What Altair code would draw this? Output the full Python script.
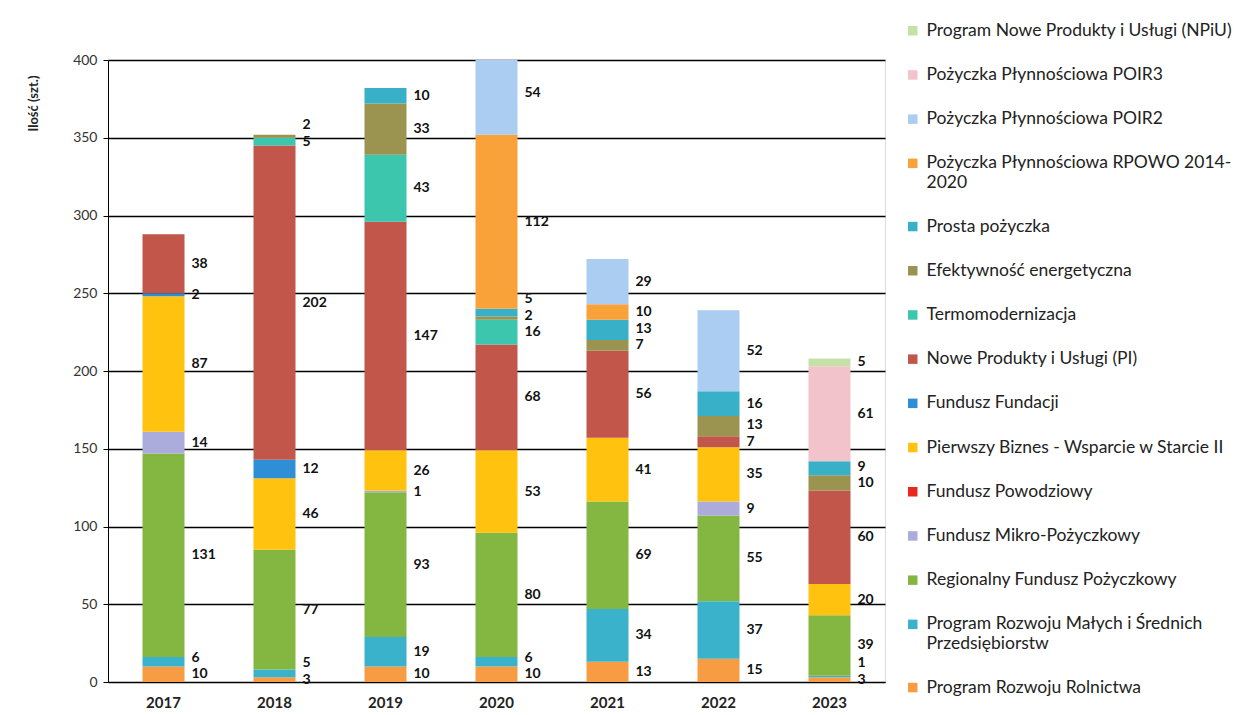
import altair as alt
import pandas as pd

years = ["2017", "2018", "2019", "2020", "2021", "2022", "2023"]

# series in stacking order (bottom first)
series = [
    "Program Rozwoju Rolnictwa",
    "Program Rozwoju Małych i Średnich Przedsiębiorstw",
    "Regionalny Fundusz Pożyczkowy",
    "Fundusz Mikro-Pożyczkowy",
    "Fundusz Powodziowy",
    "Pierwszy Biznes - Wsparcie w Starcie II",
    "Fundusz Fundacji",
    "Nowe Produkty i Usługi (PI)",
    "Termomodernizacja",
    "Efektywność energetyczna",
    "Prosta pożyczka",
    "Pożyczka Płynnościowa RPOWO 2014-2020",
    "Pożyczka Płynnościowa POIR2",
    "Pożyczka Płynnościowa POIR3",
    "Program Nowe Produkty i Usługi (NPiU)",
]
colors = [
    "#F79C42", "#3BB2CB", "#84B642", "#ABABDC", "#E8281E", "#FFC20F",
    "#2F8FD6", "#C2564B", "#3DC6AE", "#9A9450", "#38B0C8", "#F9A23A",
    "#AACDF1", "#F2C3CB", "#C6E1A8",
]

rolnictwa = [10, 3, 10, 10, 13, 15, 3]
msp = [6, 5, 19, 6, 34, 37, 1]
rfp = [131, 77, 93, 80, 69, 55, 39]
mikro = [14, 0, 1, 0, 0, 9, 0]
powodziowy = [0, 0, 0, 0, 0, 0, 0]
pierwszy_biznes = [87, 46, 26, 53, 41, 35, 20]
fundacji = [2, 12, 0, 0, 0, 0, 0]
nowe_pi = [38, 202, 147, 68, 56, 7, 60]
termo = [0, 5, 43, 16, 0, 0, 0]
efekt = [0, 2, 33, 2, 7, 13, 10]
prosta = [0, 0, 10, 5, 13, 16, 9]
rpowo = [0, 0, 0, 112, 10, 0, 0]
poir2 = [0, 0, 0, 54, 29, 52, 0]
poir3 = [0, 0, 0, 0, 0, 0, 61]
npiu = [0, 0, 0, 0, 0, 0, 5]

values = [rolnictwa, msp, rfp, mikro, powodziowy, pierwszy_biznes, fundacji,
          nowe_pi, termo, efekt, prosta, rpowo, poir2, poir3, npiu]

# stack in data units; label y = segment centre, pushed up when too close to the previous label
MIN_GAP = 10.5
rows = []
for yi, y in enumerate(years):
    base_val = 0.0
    last_label = -1e9
    for si, (name, vals) in enumerate(zip(series, values)):
        v = vals[yi]
        if v <= 0:
            continue
        mid = base_val + v / 2.0
        ly = max(mid, last_label + MIN_GAP)
        last_label = ly
        rows.append({"year": y, "series": name, "idx": si, "value": v,
                     "y0": base_val, "y1": base_val + v, "label_y": ly})
        base_val += v
df = pd.DataFrame(rows)

legend_order = series[::-1]
legend_colors = colors[::-1]

line_breaks = {
    "Pożyczka Płynnościowa RPOWO 2014-2020": ["Pożyczka Płynnościowa RPOWO 2014-", "2020"],
    "Program Rozwoju Małych i Średnich Przedsiębiorstw": ["Program Rozwoju Małych i Średnich", "Przedsiębiorstw"],
}
label_expr = ""
for k, parts in line_breaks.items():
    label_expr += "datum.label == '%s' ? ['%s', '%s'] : " % (k, parts[0], parts[1])
label_expr += "datum.label"

FONT = "Lato"

base = alt.Chart(df)

bars = base.mark_bar(size=42, clip=True).encode(
    x=alt.X("year:N", sort=years, title=None,
            scale=alt.Scale(paddingInner=0.62, paddingOuter=0.31),
            axis=alt.Axis(labelFont=FONT, labelFontWeight="bold", labelFontSize=15,
                          labelColor="#222", ticks=False, domainColor="#000",
                          labelPadding=13, labelAngle=0)),
    y=alt.Y("y0:Q", title="Ilość (szt.)",
            scale=alt.Scale(domain=[0, 400], nice=False),
            axis=alt.Axis(values=[0, 50, 100, 150, 200, 250, 300, 350, 400],
                          grid=True, gridColor="#000", gridWidth=1.3,
                          domainColor="#000", tickColor="#000", tickSize=5,
                          labelFont=FONT, labelFontSize=14, labelColor="#333",
                          labelPadding=6,
                          titleFont=FONT, titleFontSize=13, titleFontWeight="bold",
                          titleColor="#222", titleAnchor="end", titleX=-68, titleY=15)),
    y2="y1:Q",
    color=alt.Color("series:N",
                    scale=alt.Scale(domain=legend_order, range=legend_colors),
                    legend=alt.Legend(title=None, orient="none", legendX=796, legendY=-38,
                                      labelFont=FONT, labelFontSize=17.5, labelColor="#222",
                                      labelExpr=label_expr, labelLimit=400,
                                      symbolType="square", symbolSize=90,
                                      symbolStrokeWidth=0, rowPadding=25.2,
                                      labelOffset=5, padding=0)),
    order=alt.Order("idx:Q", sort="ascending"),
)

labels = base.mark_text(align="left", baseline="middle", dx=28, font=FONT,
                        fontSize=14, fontWeight="bold", color="#111").encode(
    x=alt.X("year:N", sort=years),
    y=alt.Y("label_y:Q"),
    text=alt.Text("value:Q"),
)

chart = alt.layer(bars, labels).properties(
    width=777, height=622,
    autosize=alt.AutoSizeParams(type="none"),
    padding={"left": 100, "top": 52, "right": 349, "bottom": 32},
).configure_view(stroke=None).configure(background="white")

chart.save("out.html", embed_options={"renderer": "svg", "actions": False})
